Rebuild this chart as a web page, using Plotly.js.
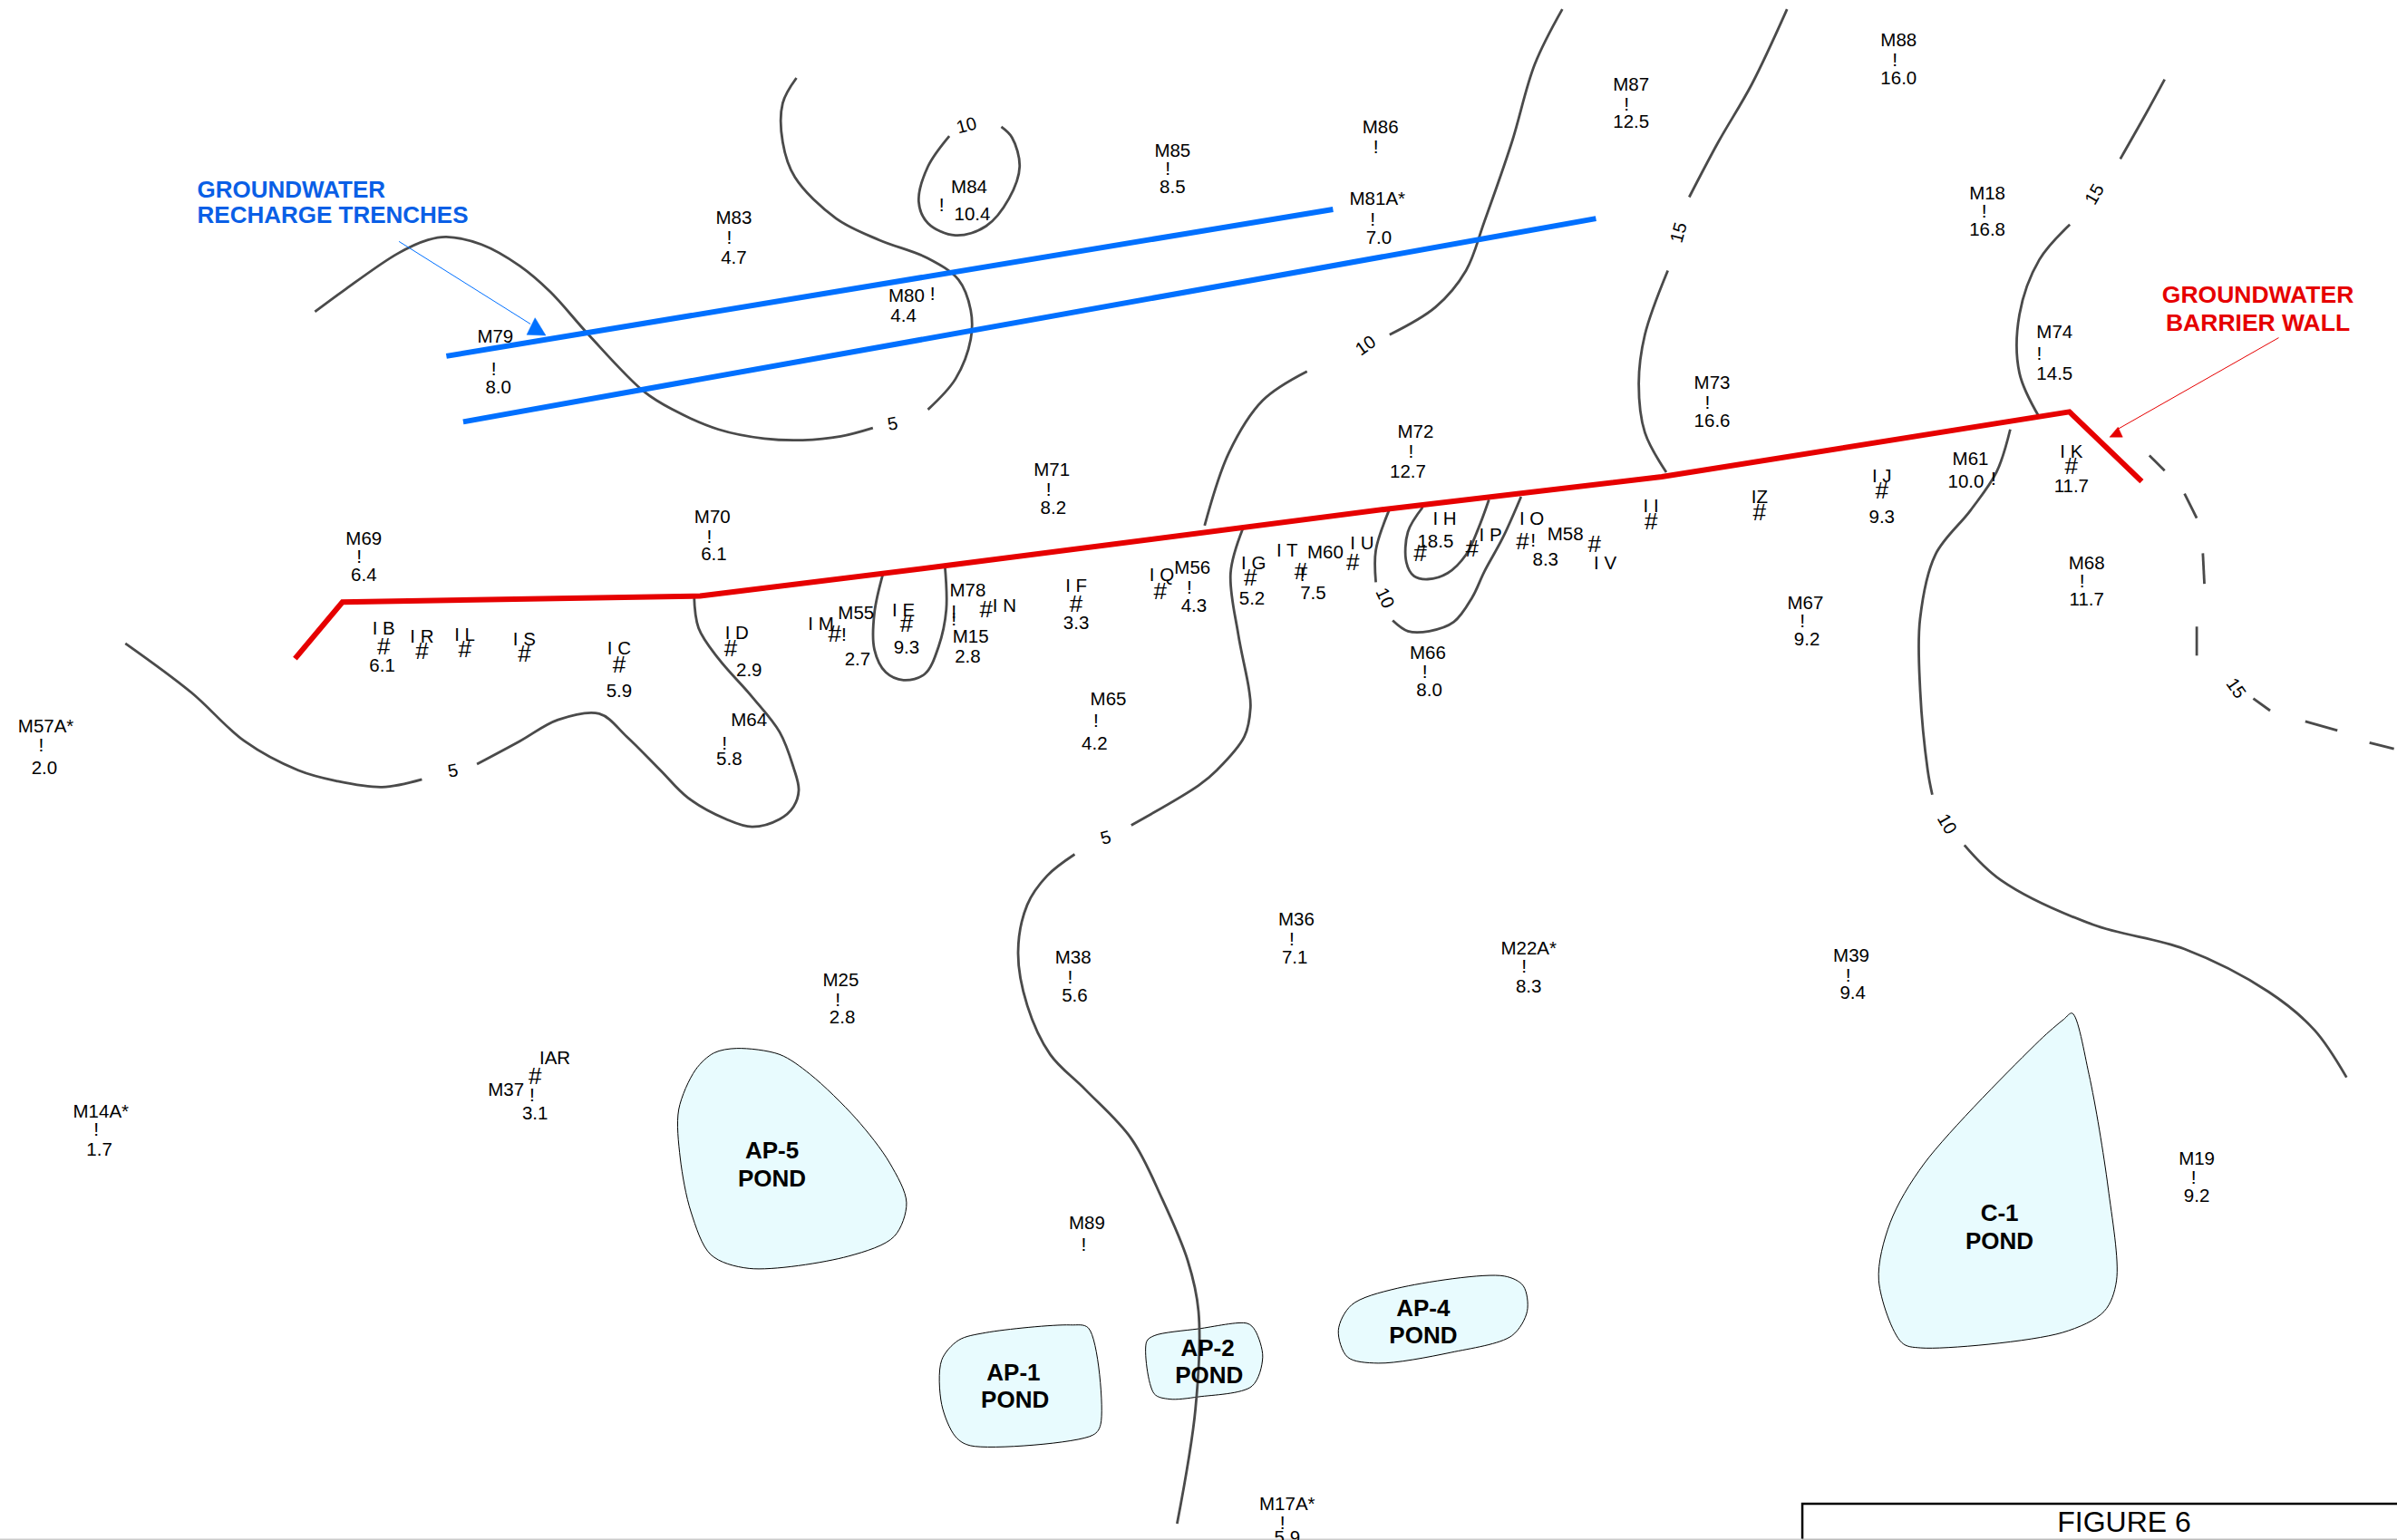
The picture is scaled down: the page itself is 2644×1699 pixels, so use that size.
<!DOCTYPE html>
<html><head><meta charset="utf-8">
<script src="https://cdn.plot.ly/plotly-3.0.1.min.js"></script>
<style>html,body{margin:0;padding:0;background:#fff}#map{width:2644px;height:1699px}</style>
</head><body><div id="map"></div>
<script>
// Map coordinates (map units: 1568 wide, 1008 tall, y downward)
const wellNames = ["M88","M87","M86","M85","M84","M83","M81A*","M18","M80","M79","M74","M73","M72","M71","M70","M69","M61","I K","I J","IZ","I I","I O","M58","I V","I P","I H","I U","M60","I T","I G","M56","I Q","I F","M78","M15","I N","I E","M55","I M","I D","I C","I S","I L","I R","I B","M64","M65","M66","M67","M68","M57A*","M36","M38","M22A*","M39","M25","IAR","M37","M14A*","M19","M89","M17A*"];
const wellNameX = [1242,1067,903,767,634,480,901,1300,593,324,1344,1120,926,688,466,238,1289,1355,1231,1151,1080,1002,1024,1050,975,945,891,867,842,820,780,760,704,633,635,657,591,560,537,482,405,343,304,276,251,490,725,934,1181,1365,30,848,702,1000,1211,550,363,331,66,1437,711,842];
const wellNameY = [26,55,83,98,122,142,130,126,193,220,217,250,282,307,338,352,300,295,311,325,331,339,349,368,350,339,355,361,360,368,371,376,383,386,416,396,399,401,408,414,424,418,415,416,411,471,457,427,394,368,475,601,626,620,625,641,692,713,727,758,800,984];

const monitorX = [1239.5,1064,900,764,616,477,898,1298,610,323,1334,1117,923,686,464,235,1304,1003,852,778,624,624,552,474,717,932,1179,1362,27,845,700,997,1209,548,348,63,1435,709,839];
const monitorY = [39,68,96,110,134,155,143,138,192,241,231,263,295,320,351,364,313,353,376,384,400,405,415,486,471,439,406,380,487,614,639,632,638,654,716,739,770,814,996];

const injectionX = [1355,1231,1151,1080,996,1043,963,929,885,851,818,759,704,645,593,546,478,405,343,304,276,251,350];
const injectionY = [305,321,335,341,354,356,359,362,368,374,378,387,395,399,408,415,424,435,428,425,426,423,704];

const readings  = ["16.0","12.5","8.5","10.4","4.7","7.0","16.8","4.4","8.0","14.5","16.6","12.7","8.2","6.1","6.4","10.0","11.7","9.3","8.3","18.5","7.5","5.2","4.3","3.3","2.8","9.3","2.7","2.9","5.9","6.1","5.8","4.2","8.0","9.2","11.7","2.0","7.1","5.6","8.3","9.4","2.8","3.1","1.7","9.2","5.9"];
const readingX  = [1242,1067,767,636,480,902,1300,591,326,1344,1120,921,689,467,238,1286,1355,1231,1011,939,859,819,781,704,633,593,561,490,405,250,477,716,935,1182,1365,29,847,703,1000,1212,551,350,65,1437,842];
const readingY  = [51,79,122,140,168,155,150,206,253,244,275,308,332,362,376,315,318,338,366,354,388,391,396,407,429,423,431,438,452,435,496,486,451,418,392,502,626,651,645,649,665,728,752,782,1006];

const contour5WestX = [206,225,260,280,292,315,340,360,385,421,440,470,500,525,550,571];
const contour5WestY = [204,190,166,157,155,160,174,191,219,256,268,281,287,288,285.5,280];
const contour5NorthX = [607,625,635,635,627,607,575,547,520,512,512,521];
const contour5NorthY = [268,248,222,203,183,169,157,143,116,93,67.5,51];
const contour10LoopX = [621,607,601,607,625,645,660,667,662,655];
const contour10LoopY = [89,109,132,146,154,148,130,109,90,83];
const contour5SouthAX = [82,125,160,195,220,250,276];
const contour5SouthAY = [421,453,485,504,511,515,510];
const contour5SouthBX = [312,340,365,392,410,432,450,475,492,510,519,522.5,519,510,492,470,457,454];
const contour5SouthBY = [500,485,471,467,482,504,522,536,541,536,528,517,502,479,456,431,411,389];
const contourIEX = [578,572,572,579.5,591,605,614,619,618];
const contourIEY = [374,401,425,440,445,441,423,399,369];
const contour5CentreAX = [813,805,810,817,818,814,796,784,740];
const contour5CentreAY = [346,375,415,451,463,482,504,514,540];
const contour5CentreBX = [703,685,672,666,672,687,710,740,760,777,784,782,770];
const contour5CentreBY = [559,573,592,623,658,690,713,745,784,825,858,922,997];
const contour10NorthAX = [1022,1004,989,971,959,939,909];
const contour10NorthAY = [6,42,93,145,177,201,219];
const contour10NorthBX = [855,826,804,788];
const contour10NorthBY = [243,262,296,344];
const contour15AX = [1169,1146,1124,1105];
const contour15AY = [6,55,93,129];
const contour15BX = [1091,1076,1072,1076,1090];
const contour15BY = [177,219,251,283,309];
const contour15CX = [1416,1404,1387];
const contour15CY = [52,74,104];
const contour15DX = [1354,1334,1321,1321,1334];
const contour15DY = [147,170,206,244,273];
const contour10EastAX = [1315,1306,1289,1266,1256,1256,1261,1264];
const contour10EastAY = [281,309,334,363,405,450,504,520];
const contour10EastBX = [1285,1309,1369,1429,1484,1514,1535];
const contour10EastBY = [553,576,605,621,649,674,705];
const contourIHX = [930.6,921,920,925,934,947,959,967,974];
const contourIHY = [332,348,368,377,379,375,363,346,327];
const contour10IPAX = [908.6,900,900];
const contour10IPAY = [334,360,381];
const contour10IPBX = [911,921,935,951,963,971,983,995];
const contour10IPBY = [406,413,413,407,391,374,352,325];
const dash15X = [[1406,1416],[1429,1437],[1441,1442],[1437,1437],[1474,1485],[1508,1529],[1550,1566]];
const dash15Y = [[298,308],[323,339],[362,382],[410,429],[457,465],[472,478],[486,490]];

const contourLabels = ["5","10","5","5","10","15","15","10","10","15"];
const contourLabelX = [584,632,296,723,893,1098,1370,1274,906,1463];
const contourLabelY = [277,82,504,548,226,152,127,539,391,450];
const contourLabelAngle = [-10,-15,-10,-15,-35,-75,-60,60,65,55];

const wallX = [193,224,458,620,908,1087,1353.7,1401];
const wallY = [431,394,390,370,333,312,269.5,315];
const trench1X = [292,872];
const trench1Y = [233,137];
const trench2X = [303,1044];
const trench2Y = [276,143];

const blueLeaderX = [261,347];
const blueLeaderY = [158,212];
const blueHeadX = [350,344.6,357,350];
const blueHeadY = [208,219,219.5,208];
const redLeaderX = [1490.6,1385];
const redLeaderY = [221,281];
const redHeadX = [1380,1385.5,1388.5,1380];
const redHeadY = [286,279.5,286,286];

const ap5X = [482,510,530,560,582,593,585,555,490,465,452,445,444,455,467,482];
const ap5Y = [686,690,703,732,761,787,809,822,830,821,793,758,726,700,689,686];
const ap1X = [627,616,616,625,635,715,720,712,700,645,627];
const ap1Y = [877,890,919,940,946,939,932,869,867,872,877];
const ap2X = [750,755,784,816,821,826,819,784,765,755,750];
const ap2Y = [878,874,869.5,866,870.5,888,907,914,915.5,912,878];
const ap4X = [875.5,884,914,984,996.5,999,989,949,901.5,881.5,875.5];
const ap4Y = [870.5,854,843,835,841.5,858,874,885,892,888,870.5];
const c1X = [1355.5,1366.5,1379,1384.5,1376.5,1349,1256.5,1244,1229,1236.5,1259,1334,1350,1355.5];
const c1Y = [663,703,777,838,858,872,882,878.5,838,800,761,681,667,663];

const pondLabels = ["AP-5","POND","AP-1","POND","AP-2","POND","AP-4","POND","C-1","POND"];
const pondLabelX = [505,505,663,664,790,791,931,931,1308,1308];
const pondLabelY = [753,771,898,916,882,900,856,874,794,812];

const blueNote = ["GROUNDWATER","RECHARGE TRENCHES"];
const blueNoteX = [129,129];
const blueNoteY = [124,141];
const redNote = ["GROUNDWATER","BARRIER WALL"];
const redNoteX = [1477,1477];
const redNoteY = [193,211];

const titleBoxX = [1179,1179,1568];
const titleBoxY = [1008,984,984];
const figureLabel = ["FIGURE 6"];
const figureLabelX = [1389.5];
const figureLabelY = [996.5];
const pageEdgeX = [0,1179];
const pageEdgeY = [1007.4,1007.4];
const pageEdge2X = [1179,1568];

const FONT = '"Liberation Sans", Arial, sans-serif';
const BLACK = '#000000', GREY = '#4a4a4a', RED = '#e60000', BLUE = '#0070ff', POND = '#e8fbfe';
const TEXT_NUDGE = 1.3;
const traces = [];
const line = (x, y, color, width, spline) => traces.push({x, y, type:'scatter', mode:'lines', hoverinfo:'skip',
  line:{color, width, shape: spline ? 'spline' : 'linear', smoothing: 1}});
const pond = (x, y) => traces.push({x, y, type:'scatter', mode:'lines', fill:'toself', fillcolor:POND, hoverinfo:'skip',
  line:{color:'#000000', width:1, shape:'spline', smoothing:0.9}});
const solid = (x, y, color) => traces.push({x, y, type:'scatter', mode:'lines', fill:'toself', fillcolor:color, hoverinfo:'skip',
  line:{color, width:0.5}});
const words = (x, y, text, size, color, bold, pos) => traces.push({x, y: y.map(v => v + TEXT_NUDGE), text, type:'scatter', mode:'text', hoverinfo:'skip',
  textposition: pos || 'middle center',
  textfont:{family:FONT, size, color, weight: bold ? 700 : 400}});

pond(ap5X,ap5Y); pond(ap1X,ap1Y); pond(ap2X,ap2Y); pond(ap4X,ap4Y); pond(c1X,c1Y);

[[contour5WestX,contour5WestY],[contour5NorthX,contour5NorthY],[contour10LoopX,contour10LoopY],
 [contour5SouthAX,contour5SouthAY],[contour5SouthBX,contour5SouthBY],[contourIEX,contourIEY],
 [contour5CentreAX,contour5CentreAY],[contour5CentreBX,contour5CentreBY],
 [contour10NorthAX,contour10NorthAY],[contour10NorthBX,contour10NorthBY],
 [contour15AX,contour15AY],[contour15BX,contour15BY],[contour15CX,contour15CY],[contour15DX,contour15DY],
 [contour10EastAX,contour10EastAY],[contour10EastBX,contour10EastBY],
 [contourIHX,contourIHY],[contour10IPAX,contour10IPAY],[contour10IPBX,contour10IPBY]
].forEach(c => line(c[0], c[1], GREY, 2.8, true));
dash15X.forEach((x,i) => line(x, dash15Y[i], GREY, 2.8, false));

line(trench1X, trench1Y, BLUE, 6, false);
line(trench2X, trench2Y, BLUE, 6, false);
line(wallX, wallY, RED, 6, false);
line(blueLeaderX, blueLeaderY, BLUE, 1, false);
line(redLeaderX, redLeaderY, RED, 1, false);
solid(blueHeadX, blueHeadY, BLUE);
solid(redHeadX, redHeadY, RED);

line(titleBoxX, titleBoxY, BLACK, 2.5, false);
line(pageEdgeX, pageEdgeY, '#cccccc', 2, false);
line(pageEdge2X, pageEdgeY, '#bbbbbb', 2, false);

words(wellNameX, wellNameY, wellNames, 20.5, BLACK);
words(monitorX, monitorY, monitorX.map(() => '!'), 21, BLACK);
words(injectionX, injectionY, injectionX.map(() => '#'), 26, BLACK);
words(readingX, readingY, readings, 20.5, BLACK);
words(pondLabelX, pondLabelY, pondLabels, 26, BLACK, true);
words(blueNoteX, blueNoteY, blueNote, 26, '#0a5fe6', true, 'middle right');
words(redNoteX, redNoteY, redNote, 26.5, RED, true);
words(figureLabelX, figureLabelY, figureLabel, 32, BLACK);

const annotations = contourLabels.map((t,i) => ({x:contourLabelX[i], y:contourLabelY[i], xref:'x', yref:'y',
  text:t, showarrow:false, textangle:contourLabelAngle[i], font:{family:FONT, size:20, color:BLACK}}));

Plotly.newPlot('map', traces, {
  width:2644, height:1699, margin:{l:0,r:0,t:0,b:0}, showlegend:false,
  paper_bgcolor:'#ffffff', plot_bgcolor:'#ffffff', annotations,
  xaxis:{range:[0,1568], visible:false, fixedrange:true},
  yaxis:{range:[1007.7,0], visible:false, fixedrange:true}
}, {displayModeBar:false, staticPlot:true});
</script></body></html>
